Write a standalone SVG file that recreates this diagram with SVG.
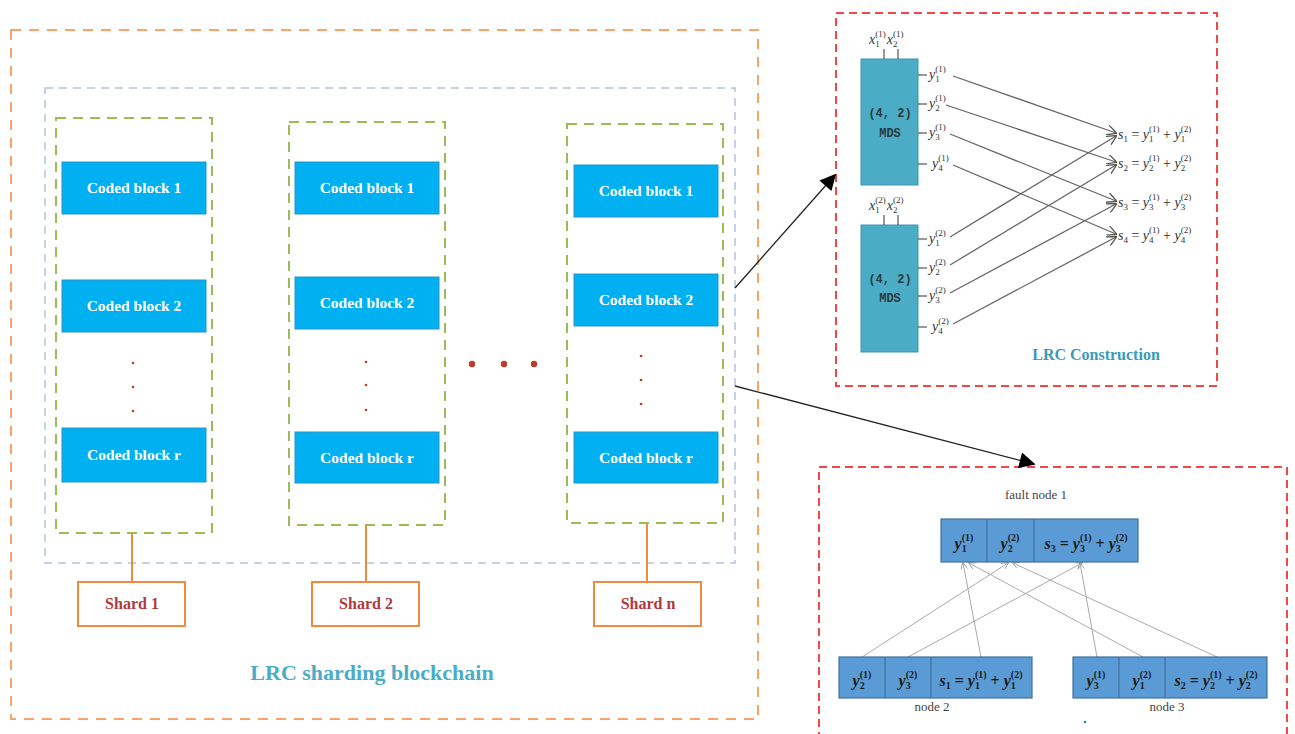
<svg xmlns="http://www.w3.org/2000/svg" width="1295" height="734" viewBox="0 0 1295 734">
<style>
.orange{fill:none;stroke:#f6a46a;stroke-width:2;stroke-dasharray:10 8}
.bluedash{fill:none;stroke:#b4c4dc;stroke-width:1.5;stroke-dasharray:8 6}
.green{fill:none;stroke:#9bbb59;stroke-width:2;stroke-dasharray:10 7}
.red{fill:none;stroke:#f04848;stroke-width:2;stroke-dasharray:8 5}
.cb rect{fill:#00b0f0;stroke:#2a94c8;stroke-width:1}
.cb text{font-family:"Liberation Serif",serif;font-size:15.5px;font-weight:bold;fill:#fff;text-anchor:middle}
.dot{fill:#c0392b}
.shard rect{fill:#fff;stroke:#f08a40;stroke-width:2}
.shard text{font-family:"Liberation Serif",serif;font-size:16px;font-weight:bold;fill:#b03a3a;text-anchor:middle}
.oline{stroke:#f08a40;stroke-width:2}
.title{font-family:"Liberation Serif",serif;font-size:22px;font-weight:bold;fill:#4bacc6;text-anchor:middle}
.mds rect{fill:#4bacc6;stroke:#3c96b0;stroke-width:1}
.mds text{font-family:"Liberation Mono",monospace;font-size:12px;font-weight:bold;fill:#2a3a40;text-anchor:middle}
.tick{stroke:#555;stroke-width:1.2}
.m{font-family:"Liberation Serif",serif;font-size:14px;fill:#333}
.i{font-style:italic}
.s{font-size:9px}
.s2{font-size:10px}
.g{stroke:#666;stroke-width:1.3;fill:none}
.gl{stroke:#aaa;stroke-width:1;fill:none}
.nd rect{fill:#5b9bd5;stroke:#41719c;stroke-width:1.2}
.nd line{stroke:#41719c;stroke-width:1.2}
.nt{font-family:"Liberation Serif",serif;font-size:16px;font-weight:bold;fill:#1a1a1a;text-anchor:middle}
.lbl{font-family:"Liberation Serif",serif;font-size:13px;fill:#444;text-anchor:middle}
.blk{stroke:#222;stroke-width:1.3;fill:none}
</style>
<defs>
<marker id="ah" viewBox="0 0 10 10" refX="9" refY="5" markerWidth="10" markerHeight="10" markerUnits="userSpaceOnUse" orient="auto"><path d="M0,0 L10,5 L0,10" fill="none" stroke="#555" stroke-width="1.3"/></marker>
<marker id="ahg" viewBox="0 0 10 10" refX="9" refY="5" markerWidth="7" markerHeight="7" markerUnits="userSpaceOnUse" orient="auto"><path d="M0,0 L10,5 L0,10" fill="none" stroke="#999" stroke-width="1.2"/></marker>
<marker id="ahb" viewBox="0 0 10 10" refX="9" refY="5" markerWidth="20" markerHeight="16" markerUnits="userSpaceOnUse" orient="auto"><path d="M0,0 L10,5 L0,10 Z" fill="#000"/></marker>
</defs>

<g id="frames">
<rect class="orange" x="11" y="30" width="747" height="689"/>
<rect class="bluedash" x="45" y="88" width="690" height="475"/>
<rect class="red" x="836" y="13" width="381" height="373"/>
<path class="red" d="M819,740 L819,467 L1287,467 L1287,740"/>
</g>

<g id="shard1-col">
<rect class="green" x="56" y="118" width="156" height="415"/>
<g class="cb"><rect x="62" y="162" width="144" height="52"/><text x="134" y="193">Coded block 1</text></g>
<g class="cb"><rect x="62" y="280" width="144" height="52"/><text x="134" y="311">Coded block 2</text></g>
<circle class="dot" cx="133" cy="363" r="1.3"/><circle class="dot" cx="133" cy="387" r="1.3"/><circle class="dot" cx="133" cy="411" r="1.3"/>
<g class="cb"><rect x="62" y="428" width="144" height="54"/><text x="134" y="460">Coded block r</text></g>
</g>

<g id="shard2-col">
<rect class="green" x="289" y="122" width="156" height="403"/>
<g class="cb"><rect x="295" y="162" width="144" height="52"/><text x="367" y="193">Coded block 1</text></g>
<g class="cb"><rect x="295" y="277" width="144" height="52"/><text x="367" y="308">Coded block 2</text></g>
<circle class="dot" cx="366" cy="362" r="1.3"/><circle class="dot" cx="366" cy="385" r="1.3"/><circle class="dot" cx="366" cy="410" r="1.3"/>
<g class="cb"><rect x="295" y="432" width="144" height="51"/><text x="367" y="463">Coded block r</text></g>
</g>

<g id="ellipsis">
<circle class="dot" cx="472" cy="364" r="3.2"/><circle class="dot" cx="504" cy="364" r="3.2"/><circle class="dot" cx="534" cy="364" r="3.2"/>
</g>

<g id="shardn-col">
<rect class="green" x="567" y="124" width="156" height="399"/>
<g class="cb"><rect x="574" y="165" width="144" height="52"/><text x="646" y="196">Coded block 1</text></g>
<g class="cb"><rect x="574" y="274" width="144" height="52"/><text x="646" y="305">Coded block 2</text></g>
<circle class="dot" cx="641" cy="356" r="1.3"/><circle class="dot" cx="641" cy="380" r="1.3"/><circle class="dot" cx="641" cy="404" r="1.3"/>
<g class="cb"><rect x="574" y="432" width="144" height="51"/><text x="646" y="463">Coded block r</text></g>
</g>

<g id="shard-connectors">
<line class="oline" x1="132" y1="533" x2="132" y2="582"/>
<line class="oline" x1="366" y1="525" x2="366" y2="582"/>
<line class="oline" x1="647" y1="523" x2="647" y2="582"/>
</g>
<g id="shard1" class="shard"><rect x="78" y="582" width="107" height="44"/><text x="132" y="609">Shard 1</text></g>
<g id="shard2" class="shard"><rect x="312" y="582" width="107" height="44"/><text x="366" y="609">Shard 2</text></g>
<g id="shardn" class="shard"><rect x="594" y="582" width="107" height="44"/><text x="648" y="609">Shard n</text></g>
<text class="title" x="372" y="680">LRC sharding blockchain</text>

<g id="main-arrows">
<line class="blk" x1="735" y1="288" x2="835" y2="175" marker-end="url(#ahb)"/>
<line class="blk" x1="735" y1="386" x2="1034" y2="464" marker-end="url(#ahb)"/>
</g>

<g id="mds1" class="mds">
<rect x="861" y="59" width="57" height="126"/>
<text x="890" y="117">(4, 2)</text><text x="890" y="137">MDS</text>
</g>
<g id="mds2" class="mds">
<rect x="861" y="225" width="57" height="127"/>
<text x="890" y="283">(4, 2)</text><text x="890" y="302">MDS</text>
</g>

<g id="mds-io">
<line class="tick" x1="884" y1="49" x2="884" y2="59"/><line class="tick" x1="898" y1="49" x2="898" y2="59"/>
<line class="tick" x1="884" y1="215" x2="884" y2="225"/><line class="tick" x1="898" y1="215" x2="898" y2="225"/>
<text class="m" x="869" y="44"><tspan class="i">x</tspan><tspan class="s" dy="3">1</tspan><tspan class="s" dx="-4.5" dy="-10">(1)</tspan><tspan class="i" dx="1" dy="7">x</tspan><tspan class="s" dy="3">2</tspan><tspan class="s" dx="-4.5" dy="-10">(1)</tspan></text>
<text class="m" x="869" y="210"><tspan class="i">x</tspan><tspan class="s" dy="3">1</tspan><tspan class="s" dx="-4.5" dy="-10">(2)</tspan><tspan class="i" dx="1" dy="7">x</tspan><tspan class="s" dy="3">2</tspan><tspan class="s" dx="-4.5" dy="-10">(2)</tspan></text>
<line class="tick" x1="918" y1="75" x2="927" y2="75"/>
<line class="tick" x1="918" y1="104" x2="927" y2="104"/>
<line class="tick" x1="918" y1="133" x2="927" y2="133"/>
<line class="tick" x1="918" y1="164" x2="927" y2="164"/>
<line class="tick" x1="918" y1="239" x2="927" y2="239"/>
<line class="tick" x1="918" y1="268" x2="927" y2="268"/>
<line class="tick" x1="918" y1="296" x2="927" y2="296"/>
<line class="tick" x1="918" y1="327" x2="927" y2="327"/>
<text class="m" x="929" y="79"><tspan class="i">y</tspan><tspan class="s" dy="3">1</tspan><tspan class="s" dx="-4.5" dy="-10">(1)</tspan></text>
<text class="m" x="929" y="108"><tspan class="i">y</tspan><tspan class="s" dy="3">2</tspan><tspan class="s" dx="-4.5" dy="-10">(1)</tspan></text>
<text class="m" x="929" y="137"><tspan class="i">y</tspan><tspan class="s" dy="3">3</tspan><tspan class="s" dx="-4.5" dy="-10">(1)</tspan></text>
<text class="m" x="932" y="168"><tspan class="i">y</tspan><tspan class="s" dy="3">4</tspan><tspan class="s" dx="-4.5" dy="-10">(1)</tspan></text>
<text class="m" x="929" y="243"><tspan class="i">y</tspan><tspan class="s" dy="3">1</tspan><tspan class="s" dx="-4.5" dy="-10">(2)</tspan></text>
<text class="m" x="929" y="272"><tspan class="i">y</tspan><tspan class="s" dy="3">2</tspan><tspan class="s" dx="-4.5" dy="-10">(2)</tspan></text>
<text class="m" x="929" y="300"><tspan class="i">y</tspan><tspan class="s" dy="3">3</tspan><tspan class="s" dx="-4.5" dy="-10">(2)</tspan></text>
<text class="m" x="932" y="331"><tspan class="i">y</tspan><tspan class="s" dy="3">4</tspan><tspan class="s" dx="-4.5" dy="-10">(2)</tspan></text>
</g>

<g id="lrc-connectors">
<line class="g" x1="953" y1="76" x2="1116" y2="133" marker-end="url(#ah)"/>
<line class="g" x1="946" y1="105" x2="1116" y2="162" marker-end="url(#ah)"/>
<line class="g" x1="950" y1="134" x2="1116" y2="201" marker-end="url(#ah)"/>
<line class="g" x1="953" y1="165" x2="1116" y2="234" marker-end="url(#ah)"/>
<line class="g" x1="950" y1="237" x2="1116" y2="136" marker-end="url(#ah)"/>
<line class="g" x1="950" y1="265" x2="1116" y2="165" marker-end="url(#ah)"/>
<line class="g" x1="950" y1="293" x2="1116" y2="204" marker-end="url(#ah)"/>
<line class="g" x1="953" y1="324" x2="1116" y2="237" marker-end="url(#ah)"/>
</g>

<g id="s-labels">
<text class="m" x="1118" y="139"><tspan class="i">s</tspan><tspan class="s" dy="3">1</tspan><tspan dy="-3"> = </tspan><tspan class="i">y</tspan><tspan class="s" dy="3">1</tspan><tspan class="s" dx="-4.5" dy="-10">(1)</tspan><tspan dy="7"> + </tspan><tspan class="i">y</tspan><tspan class="s" dy="3">1</tspan><tspan class="s" dx="-4.5" dy="-10">(2)</tspan></text>
<text class="m" x="1118" y="168"><tspan class="i">s</tspan><tspan class="s" dy="3">2</tspan><tspan dy="-3"> = </tspan><tspan class="i">y</tspan><tspan class="s" dy="3">2</tspan><tspan class="s" dx="-4.5" dy="-10">(1)</tspan><tspan dy="7"> + </tspan><tspan class="i">y</tspan><tspan class="s" dy="3">2</tspan><tspan class="s" dx="-4.5" dy="-10">(2)</tspan></text>
<text class="m" x="1118" y="207"><tspan class="i">s</tspan><tspan class="s" dy="3">3</tspan><tspan dy="-3"> = </tspan><tspan class="i">y</tspan><tspan class="s" dy="3">3</tspan><tspan class="s" dx="-4.5" dy="-10">(1)</tspan><tspan dy="7"> + </tspan><tspan class="i">y</tspan><tspan class="s" dy="3">3</tspan><tspan class="s" dx="-4.5" dy="-10">(2)</tspan></text>
<text class="m" x="1118" y="240"><tspan class="i">s</tspan><tspan class="s" dy="3">4</tspan><tspan dy="-3"> = </tspan><tspan class="i">y</tspan><tspan class="s" dy="3">4</tspan><tspan class="s" dx="-4.5" dy="-10">(1)</tspan><tspan dy="7"> + </tspan><tspan class="i">y</tspan><tspan class="s" dy="3">4</tspan><tspan class="s" dx="-4.5" dy="-10">(2)</tspan></text>
</g>
<text x="1096" y="360" font-family="Liberation Serif, serif" font-size="16" font-weight="bold" fill="#3a9ab8" text-anchor="middle">LRC Construction</text>

<text class="lbl" x="1036" y="499">fault node 1</text>

<g id="repair-connectors">
<line class="gl" x1="862" y1="657" x2="1008" y2="563" marker-end="url(#ahg)"/>
<line class="gl" x1="908" y1="657" x2="1082" y2="563" marker-end="url(#ahg)"/>
<line class="gl" x1="981" y1="657" x2="963" y2="563" marker-end="url(#ahg)"/>
<line class="gl" x1="1097" y1="657" x2="1080" y2="563" marker-end="url(#ahg)"/>
<line class="gl" x1="1143" y1="657" x2="969" y2="563" marker-end="url(#ahg)"/>
<line class="gl" x1="1217" y1="657" x2="1013" y2="563" marker-end="url(#ahg)"/>
</g>

<g id="fault-node-1" class="nd">
<rect x="941" y="519" width="197" height="43"/>
<line x1="987" y1="519" x2="987" y2="562"/><line x1="1034" y1="519" x2="1034" y2="562"/>
<text class="nt" x="964" y="549"><tspan class="i">y</tspan><tspan class="s2" dy="3">1</tspan><tspan class="s2" dx="-5" dy="-11">(1)</tspan></text>
<text class="nt" x="1010" y="549"><tspan class="i">y</tspan><tspan class="s2" dy="3">2</tspan><tspan class="s2" dx="-5" dy="-11">(2)</tspan></text>
<text class="nt" x="1086" y="549"><tspan class="i">s</tspan><tspan class="s2" dy="3">3</tspan><tspan dy="-3"> = </tspan><tspan class="i">y</tspan><tspan class="s2" dy="3">3</tspan><tspan class="s2" dx="-5" dy="-11">(1)</tspan><tspan dy="8"> + </tspan><tspan class="i">y</tspan><tspan class="s2" dy="3">3</tspan><tspan class="s2" dx="-5" dy="-11">(2)</tspan></text>
</g>

<g id="node-2" class="nd">
<rect x="839" y="657" width="193" height="41"/>
<line x1="885" y1="657" x2="885" y2="698"/><line x1="931" y1="657" x2="931" y2="698"/>
<text class="nt" x="862" y="686"><tspan class="i">y</tspan><tspan class="s2" dy="3">2</tspan><tspan class="s2" dx="-5" dy="-11">(1)</tspan></text>
<text class="nt" x="908" y="686"><tspan class="i">y</tspan><tspan class="s2" dy="3">3</tspan><tspan class="s2" dx="-5" dy="-11">(2)</tspan></text>
<text class="nt" x="981" y="686"><tspan class="i">s</tspan><tspan class="s2" dy="3">1</tspan><tspan dy="-3"> = </tspan><tspan class="i">y</tspan><tspan class="s2" dy="3">1</tspan><tspan class="s2" dx="-5" dy="-11">(1)</tspan><tspan dy="8"> + </tspan><tspan class="i">y</tspan><tspan class="s2" dy="3">1</tspan><tspan class="s2" dx="-5" dy="-11">(2)</tspan></text>
</g>
<text class="lbl" x="932" y="711">node 2</text>

<g id="node-3" class="nd">
<rect x="1073" y="657" width="194" height="41"/>
<line x1="1119" y1="657" x2="1119" y2="698"/><line x1="1165" y1="657" x2="1165" y2="698"/>
<text class="nt" x="1096" y="686"><tspan class="i">y</tspan><tspan class="s2" dy="3">3</tspan><tspan class="s2" dx="-5" dy="-11">(1)</tspan></text>
<text class="nt" x="1142" y="686"><tspan class="i">y</tspan><tspan class="s2" dy="3">1</tspan><tspan class="s2" dx="-5" dy="-11">(2)</tspan></text>
<text class="nt" x="1216" y="686"><tspan class="i">s</tspan><tspan class="s2" dy="3">2</tspan><tspan dy="-3"> = </tspan><tspan class="i">y</tspan><tspan class="s2" dy="3">2</tspan><tspan class="s2" dx="-5" dy="-11">(1)</tspan><tspan dy="8"> + </tspan><tspan class="i">y</tspan><tspan class="s2" dy="3">2</tspan><tspan class="s2" dx="-5" dy="-11">(2)</tspan></text>
</g>
<text class="lbl" x="1167" y="711">node 3</text>
<circle cx="1085" cy="722" r="1.3" fill="#1a8aa0"/>
</svg>
